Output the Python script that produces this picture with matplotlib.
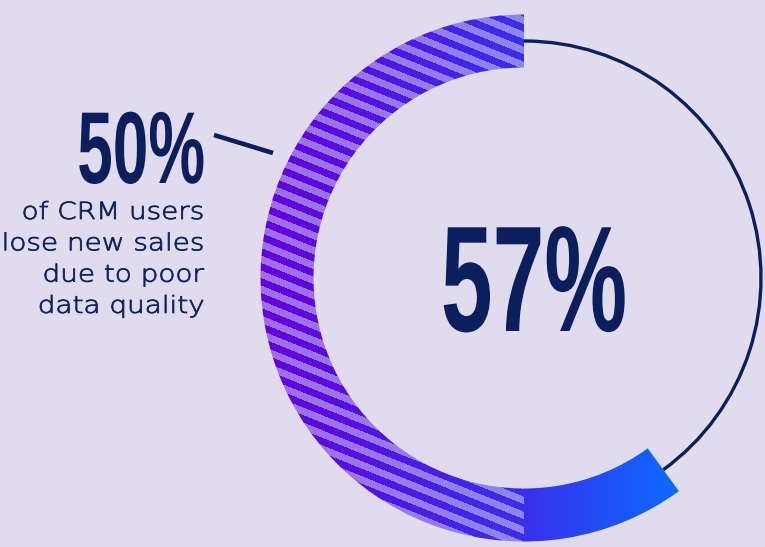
import numpy as np
import matplotlib
matplotlib.use("Agg")
import matplotlib.pyplot as plt
from matplotlib.patches import Wedge, Arc
from matplotlib.patheffects import AbstractPathEffect
from matplotlib.transforms import Affine2D
from matplotlib.colors import to_rgb

# data
big_label = "57%"
ring_share = 0.60          # part of the circle covered by the thick arc
side_label = "50%"
side_lines = ["of CRM users", "lose new sales", "due to poor", "data quality"]

bg = "#E0DCEE"
navy = "#0B1F5E"
grad_x = [262, 525, 680]
grad_cols = ["#6400DC", "#3A30EC", "#0A6CFF"]


class Squeeze(AbstractPathEffect):
    """scale text around a point of its box (x) and its baseline (y)"""
    def __init__(self, sx=1.0, sy=1.0, anchor=0.5, lw=0):
        super().__init__()
        self.sx, self.sy = sx, sy
        self.anchor = anchor
        self.lw = lw

    def draw_path(self, renderer, gc, tpath, affine, rgbFace=None):
        bb = tpath.get_extents(affine)
        x0 = bb.x0 + self.anchor * bb.width
        y0 = affine.get_matrix()[1, 2]
        t = affine + Affine2D().translate(-x0, -y0).scale(self.sx, self.sy).translate(x0, y0)
        if self.lw:
            gc0 = renderer.new_gc()
            gc0.copy_properties(gc)
            gc0.set_linewidth(self.lw)
            gc0.set_foreground(rgbFace)
            renderer.draw_path(gc0, tpath, t, rgbFace)
            gc0.restore()
        else:
            renderer.draw_path(gc, tpath, t, rgbFace)


W, H = 765, 547
fig = plt.figure(figsize=(W / 100, H / 100), dpi=100, facecolor=bg)
ax = fig.add_axes([0, 0, 1, 1])
ax.set_xlim(0, W)
ax.set_ylim(H, 0)
ax.axis("off")
ax.set_facecolor(bg)

cx, cy, r, w = 524, 278, 237, 53

# thin outline for the rest of the circle
start = 270 - 360 * ring_share
ax.add_patch(Arc((cx, cy), 2 * r, 2 * r, theta1=270, theta2=start + 360,
                 color=navy, lw=2.4, zorder=1))

# gradient fill with stripes on the left half
yy, xx = np.mgrid[0:H, 0:W] + 0.5
cols = np.array([to_rgb(c) for c in grad_cols])
img = np.zeros((H, W, 3))
for k in range(3):
    img[..., k] = np.interp(xx, grad_x, cols[:, k])
stripe = (xx < cx) & (((yy - np.tan(np.radians(22)) * xx) % 15) < 7.5)
img[stripe] = 0.5 * img[stripe] + 0.5 * np.array(to_rgb(bg))

ring = Wedge((cx, cy), r + w / 2, start, 270, width=w, facecolor="none",
             edgecolor="none", transform=ax.transData)
ax.add_patch(ring)
im = ax.imshow(img, extent=(0, W, H, 0), interpolation="nearest", zorder=2)
im.set_clip_path(ring)
ax.set_xlim(0, W)
ax.set_ylim(H, 0)

# centre number (tall, narrow look)
ax.text(534, 331, big_label, ha="center", va="baseline", fontsize=67,
        family="Liberation Sans", weight="bold", color=navy,
        path_effects=[Squeeze(sy=1.62, anchor=0.5)], zorder=3)

# side annotation
ax.text(205, 183, side_label, ha="right", va="baseline", fontsize=46,
        family="Liberation Sans", weight="bold", color=navy,
        path_effects=[Squeeze(sy=1.6, anchor=1.0)], zorder=3)
ax.plot([214, 273], [135, 153], color=navy, lw=3.3, solid_capstyle="butt")

for i, line in enumerate(side_lines):
    ax.text(204, 219 + i * 31.3, line, ha="right", va="baseline", fontsize=17,
            family="DejaVu Sans", weight="light", color=navy,
            path_effects=[Squeeze(sx=1.18, anchor=1.0, lw=0.6)], zorder=3)

fig.savefig("out.png", dpi=100, facecolor=bg)
